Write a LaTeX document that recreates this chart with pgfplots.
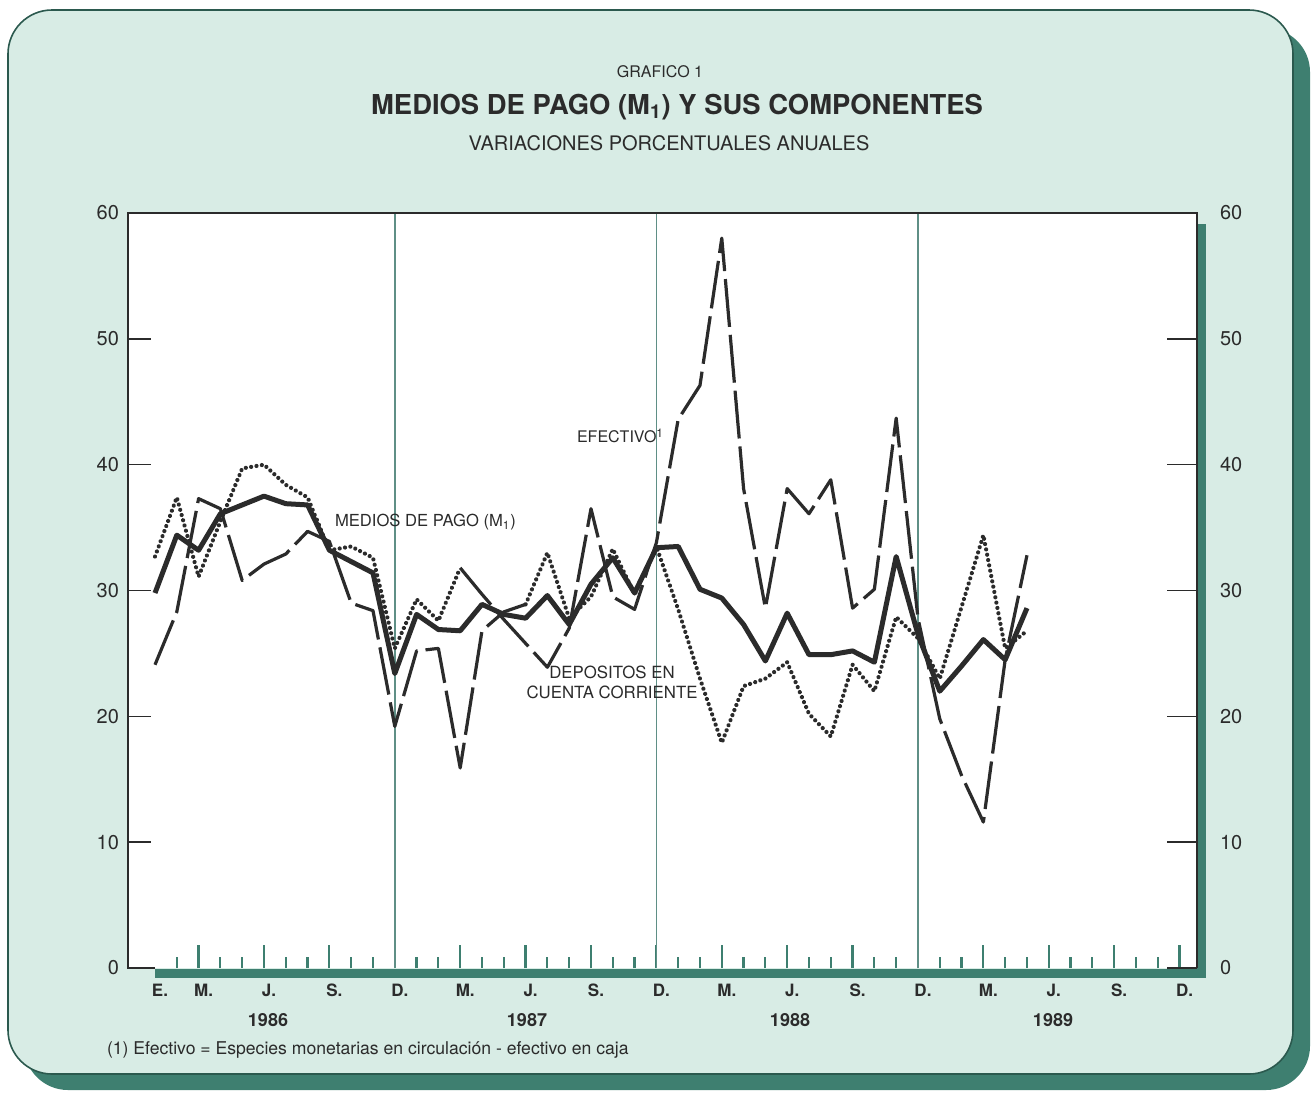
\documentclass[border=0pt]{standalone}
\usepackage{pgfplots}
\pgfplotsset{compat=1.18}
\usepackage{fontspec}
\setmainfont{TeX Gyre Heros}
\definecolor{mint}{HTML}{D8ECE5}
\definecolor{tealdk}{HTML}{3E7F70}
\definecolor{gridc}{HTML}{5F8F86}
\definecolor{ink}{HTML}{2B2B2B}
\begin{document}
\begin{tikzpicture}[x=0.5pt,y=-0.5pt]
\useasboundingbox (0,0) rectangle (1312,1093);
\fill[tealdk, rounded corners=22pt] (24,28) rectangle (1310,1090);
\filldraw[fill=mint, draw=tealdk!70!black, line width=0.8pt, rounded corners=22pt] (8,10) rectangle (1293,1074);
\fill[tealdk] (1197,224) rectangle (1206,978);
\fill[tealdk] (155,969) rectangle (1206,978);
\fill[white] (128,213) rectangle (1197,968);

\begin{axis}[
  at={(64pt,-106.5pt)}, anchor=north west,
  scale only axis, width=534.5pt, height=377.5pt,
  xmin=-1.2385, xmax=47.8, ymin=0, ymax=60,
  axis line style={draw=none},
  clip=false,
  tick align=inside,
  xtick pos=bottom, ytick pos=left,
  xtick={2,5,...,47},
  minor xtick={1,3,4,6,7,9,10,12,13,15,16,18,19,21,22,24,25,27,28,30,31,33,34,36,37,39,40,42,43,45,46},
  xticklabels={M.,J.,S.,D.,M.,J.,S.,D.,M.,J.,S.,D.,M.,J.,S.,D.},
  extra x ticks={0}, extra x tick labels={E.},
  extra x tick style={major tick length=0pt},
  major tick length=11.5pt, minor tick length=5.75pt,
  xtick style={draw=tealdk, line width=1.1pt},
  ytick={0,10,...,60},
  ytick style={draw=ink, line width=0.8pt},
  /pgf/number format/assume math mode=true,
  xticklabel style={font=\fontsize{8.5}{9}\selectfont\bfseries, text=ink, yshift=-4.5pt, xshift=2.5pt},
  yticklabel style={font=\fontsize{10}{11}\selectfont, text=ink, xshift=-1pt},
]
\draw[gridc, line width=0.8pt] (axis cs:11,0) -- (axis cs:11,60);
\draw[gridc, line width=0.8pt] (axis cs:23,0) -- (axis cs:23,60);
\draw[gridc, line width=0.8pt] (axis cs:35,0) -- (axis cs:35,60);
% M1
\addplot[ink, line width=2.5pt, line join=round] coordinates {
(0,29.8)(1,34.4)(2,33.2)(3,36.1)(4,36.8)(5,37.5)(6,36.9)(7,36.8)(8,33.2)(9,32.3)(10,31.4)(11,23.4)
(12,28.1)(13,26.9)(14,26.8)(15,28.9)(16,28.1)(17,27.8)(18,29.6)(19,27.3)(20,30.5)(21,32.6)(22,29.8)(23,33.4)
(24,33.5)(25,30.1)(26,29.4)(27,27.3)(28,24.4)(29,28.2)(30,24.9)(31,24.9)(32,25.2)(33,24.3)(34,32.7)(35,26.5)
(36,22.0)(37,24.0)(38,26.1)(39,24.5)(40,28.6)};
% dotted (depositos) up to Mar 1987
\addplot[ink, line width=2.1pt, line cap=round, dash pattern=on 0.01pt off 2.7pt] coordinates {
(0,32.7)(1,37.4)(2,31.1)(3,35.5)(4,39.7)(5,40.0)(6,38.4)(7,37.4)(8,33.2)(9,33.5)(10,32.6)(11,25.4)
(12,29.3)(13,27.6)(14,31.8)};
% long dash continuing from Mar 1987
\addplot[ink, line width=1.6pt, dash pattern=on 24pt off 4pt, line join=round] coordinates {
(14,31.8)(15,29.7)(16,27.7)(17,25.8)(18,23.9)(19,27.0)(20,36.5)(21,29.5)(22,28.5)(23,33.8)
(24,43.6)(25,46.3)(26,58.0)(27,38.1)(28,28.6)(29,38.1)(30,36.1)(31,38.8)(32,28.6)(33,30.1)(34,43.7)(35,27.8)
(36,19.8)(37,15.3)(38,11.6)(39,24.5)(40,32.8)};
% long dash (efectivo) up to May 1987
\addplot[ink, line width=1.6pt, dash pattern=on 24pt off 4pt, line join=round] coordinates {
(0,24.1)(1,28.3)(2,37.3)(3,36.5)(4,30.8)(5,32.1)(6,32.9)(7,34.7)(8,33.9)(9,29.0)(10,28.4)(11,19.2)
(12,25.2)(13,25.4)(14,15.9)(15,26.8)(16,28.3)(17,28.9)};
% dotted continuing from May 1987
\addplot[ink, line width=2.1pt, line cap=round, dash pattern=on 0.01pt off 2.7pt] coordinates {
(17,28.9)(18,33.0)(19,27.8)(20,29.5)(21,33.3)(22,29.7)(23,33.5)
(24,28.5)(25,23.0)(26,17.9)(27,22.4)(28,23.0)(29,24.3)(30,20.2)(31,18.4)(32,24.1)(33,22.0)(34,27.9)(35,26.2)
(36,23.0)(37,28.7)(38,34.4)(39,25.4)(40,26.8)};
\end{axis}

\begin{axis}[
  at={(64pt,-106.5pt)}, anchor=north west,
  scale only axis, width=534.5pt, height=377.5pt,
  xmin=-1.2385, xmax=47.8, ymin=0, ymax=60,
  axis line style={draw=none},
  tick align=inside,
  xtick=\empty,
  ytick={0,10,...,60}, ytick pos=right, yticklabel pos=right,
  major tick length=15pt,
  ytick style={draw=ink, line width=0.8pt},
  /pgf/number format/assume math mode=true,
  yticklabel style={font=\fontsize{10}{11}\selectfont, text=ink, xshift=8pt},
]
\end{axis}

\draw[ink, line width=0.8pt] (155,968) -- (128,968) -- (128,213) -- (1197,213) -- (1197,968);

\node[text=ink, font=\fontsize{8}{9}\selectfont] at (660,72) {GRAFICO 1};
\node[text=ink, font=\fontsize{13.7}{15}\selectfont\bfseries] at (677,107) {MEDIOS DE PAGO (M\textsubscript{1}) Y SUS COMPONENTES};
\node[text=ink, font=\fontsize{10}{11}\selectfont] at (669,143) {VARIACIONES PORCENTUALES ANUALES};

\node[text=ink, anchor=west, font=\fontsize{8.3}{9}\selectfont] at (328,522) {MEDIOS DE PAGO (M\textsubscript{1})};
\node[text=ink, anchor=west, font=\fontsize{8}{9}\selectfont] at (570,436) {EFECTIVO\textsuperscript{1}};
\node[text=ink, align=center, font=\fontsize{8.4}{10}\selectfont] at (612,682) {DEPOSITOS EN\\CUENTA CORRIENTE};

\foreach \yr/\xx in {1986/268,1987/527,1988/790,1989/1053}
  \node[text=ink, font=\fontsize{9}{10}\selectfont\bfseries] at (\xx,1020) {\yr};

\node[text=ink, anchor=west, font=\fontsize{8.8}{10}\selectfont] at (100,1050) {(1) Efectivo = Especies monetarias en circulación - efectivo en caja};
\end{tikzpicture}
\end{document}
